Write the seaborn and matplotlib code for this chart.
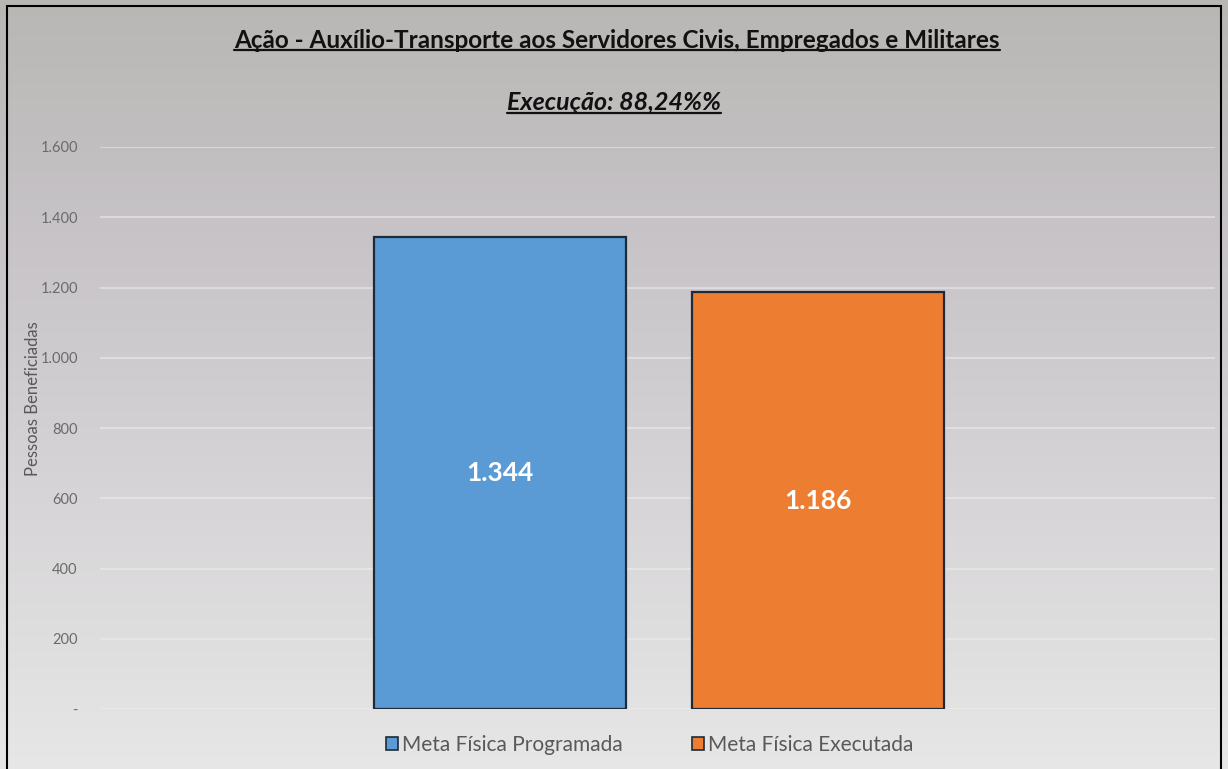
import numpy as np
import pandas as pd
import seaborn as sns
import matplotlib.pyplot as plt
from matplotlib.patches import Patch, Rectangle
from matplotlib.lines import Line2D
from matplotlib.ticker import FuncFormatter

# dados
categorias = ['Meta Física Programada', 'Meta Física Executada']
valores = [1344, 1186]
cores = ['#5b9bd5', '#ed7d31']
titulo = 'Ação - Auxílio-Transporte aos Servidores Civis, Empregados e Militares'
subtitulo = 'Execução: 88,24%%'
y_label = 'Pessoas Beneficiadas'

df = pd.DataFrame({'cat': categorias, 'val': valores})

sns.set_theme(style='white')
plt.rcParams['font.family'] = ['Lato', 'DejaVu Sans']

fig = plt.figure(figsize=(12.28, 7.69), dpi=100)

# fundo em degrade
bg = fig.add_axes([0, 0, 1, 1], zorder=-10)
grad = np.linspace(0, 1, 256).reshape(-1, 1)
topo = np.array([0.725, 0.718, 0.706])
meio = np.array([0.78, 0.765, 0.78])
base = np.array([0.905, 0.905, 0.905])
img = np.where(grad < 0.3, topo + (meio - topo) * (grad / 0.3),
               meio + (base - meio) * ((grad - 0.3) / 0.7))
bg.imshow(img.reshape(256, 1, 3), aspect='auto', extent=[0, 1, 0, 1])
bg.axis('off')

# borda
fig.patches.append(Rectangle((7 / 1228, -0.01), (1221 - 7) / 1228, 1 - 6 / 769 + 0.01,
                             transform=fig.transFigure, fill=False,
                             edgecolor='black', lw=1.5, zorder=5))

ax = fig.add_axes([100 / 1228, 1 - 709 / 769, (1215 - 100) / 1228, (709 - 147) / 769])
ax.set_facecolor('none')

sns.barplot(data=df, x='cat', y='val', hue='cat', palette=cores, legend=False,
            saturation=1, width=0.792, edgecolor='#1e2a38', linewidth=1.6, ax=ax, zorder=3)

ax.set_ylim(0, 1600)
ax.set_xlim(-1.26, 2.25)
ax.set_yticks(range(0, 1601, 200))
ax.yaxis.set_major_formatter(FuncFormatter(
    lambda v, p: '-' if v == 0 else f'{int(v):,}'.replace(',', '.')))
ax.tick_params(axis='y', colors='#6b6b6b', labelsize=10.5, length=0, pad=16)
ax.set_xticks([])
ax.set_xlabel('')
ax.set_ylabel(y_label, color='#595959', fontsize=12)
ax.yaxis.set_label_coords(-0.053, 0.552)
ax.grid(axis='y', color='#eeeeee', alpha=0.6, lw=1.3, zorder=0)
for s in ax.spines.values():
    s.set_visible(False)

for cont in ax.containers:
    ax.bar_label(cont, labels=[f'{int(v):,}'.replace(',', '.') for v in cont.datavalues],
                 label_type='center', color='white', fontsize=19, fontweight='bold')

# titulos com sublinhado
t1 = fig.text(0.5025, 1 - 40 / 769, titulo, ha='center', va='center',
              fontsize=17.5, fontweight='bold', color='#111111')
t2 = fig.text(0.5, 1 - 103 / 769, subtitulo, ha='center', va='center',
              fontsize=18, fontweight='bold', style='italic', color='#111111')
fig.canvas.draw()
r = fig.canvas.get_renderer()
for t in (t1, t2):
    bb = t.get_window_extent(r).transformed(fig.transFigure.inverted())
    fig.lines.append(Line2D([bb.x0, bb.x1], [bb.y0 + 0.002, bb.y0 + 0.002],
                            transform=fig.transFigure, color='#111111', lw=1.6))

handles = [Patch(facecolor=c, edgecolor='#1e2a38', lw=1.2) for c in cores]
fig.legend(handles, categorias, loc='center', bbox_to_anchor=(0.529, 1 - 745 / 769),
           ncol=2, frameon=False, fontsize=15, labelcolor='#595959',
           handlelength=0.6, handleheight=0.6, handletextpad=0.2, columnspacing=3.3)

fig.savefig('out.png', dpi=100)
